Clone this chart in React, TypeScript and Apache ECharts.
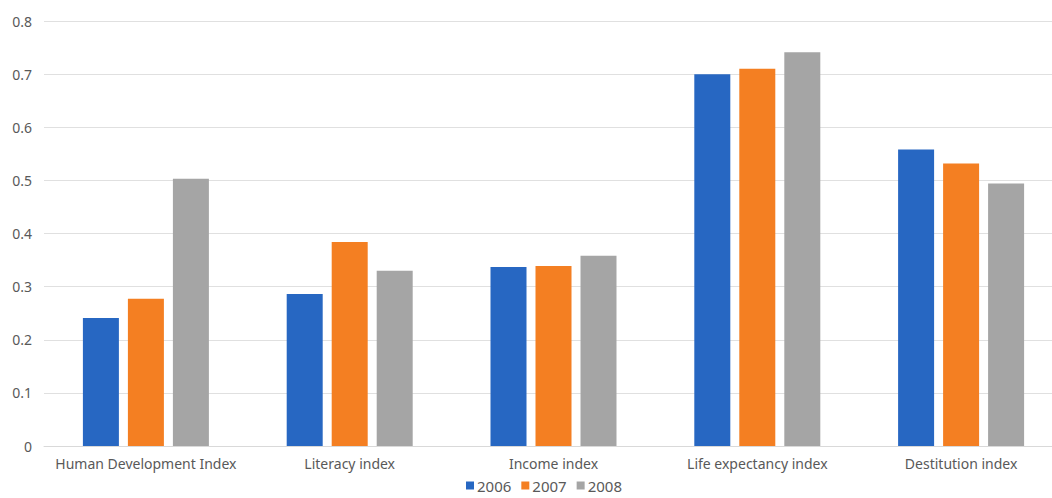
import React, { useEffect, useRef } from "react";
import * as echarts from "echarts";

const categories = [
  "Human Development Index",
  "Literacy index",
  "Income index",
  "Life expectancy index",
  "Destitution index",
];
const years = ["2006", "2007", "2008"];
const values2006 = [0.241, 0.286, 0.337, 0.7, 0.558];
const values2007 = [0.277, 0.384, 0.339, 0.71, 0.532];
const values2008 = [0.503, 0.33, 0.358, 0.741, 0.494];
const yTicks = [0, 0.1, 0.2, 0.3, 0.4, 0.5, 0.6, 0.7, 0.8];

const colors = ["#2767c2", "#f47f22", "#a5a5a5"];

export default function App() {
  const ref = useRef<HTMLDivElement>(null);
  useEffect(() => {
    if (!ref.current) return;
    const chart = echarts.init(ref.current, null, { renderer: "svg" });
    const seriesData = [values2006, values2007, values2008];
    chart.setOption({
      animation: false,
      color: colors,
      textStyle: { fontFamily: "Noto Sans" },
      grid: { left: 44, width: 1019, top: 21, height: 425, containLabel: false },
      legend: {
        bottom: 0,
        left: 461,
        itemWidth: 8,
        itemHeight: 8,
        itemGap: 10,
        icon: "rect",
        textStyle: { color: "#595959", fontSize: 15, padding: [0, 0, 0, -2] },
        data: years,
      },
      xAxis: {
        type: "category",
        data: categories,
        axisLine: { lineStyle: { color: "#d9d9d9" } },
        axisTick: { show: false },
        axisLabel: { color: "#595959", fontSize: 14, margin: 10, interval: 0 },
      },
      yAxis: {
        type: "value",
        min: yTicks[0],
        max: yTicks[yTicks.length - 1],
        interval: 0.1,
        axisLine: { show: false },
        axisTick: { show: false },
        splitLine: { lineStyle: { color: "#e0e0e0" } },
        axisLabel: {
          color: "#595959",
          fontSize: 14,
          margin: 12,
          formatter: (v: number) => (v === 0 ? "0" : v.toFixed(1)),
        },
      },
      series: years.map((y, i) => ({
        name: y,
        type: "bar",
        data: seriesData[i],
        barWidth: 36,
        barGap: "25%",
        itemStyle: { color: colors[i] },
      })),
    });
    return () => chart.dispose();
  }, []);
  return (
    <div style={{ position: "absolute", left: 0, top: 0, width: 1052, height: 498, overflow: "hidden" }}>
      <div ref={ref} style={{ width: 1075, height: 498 }} />
    </div>
  );
}
